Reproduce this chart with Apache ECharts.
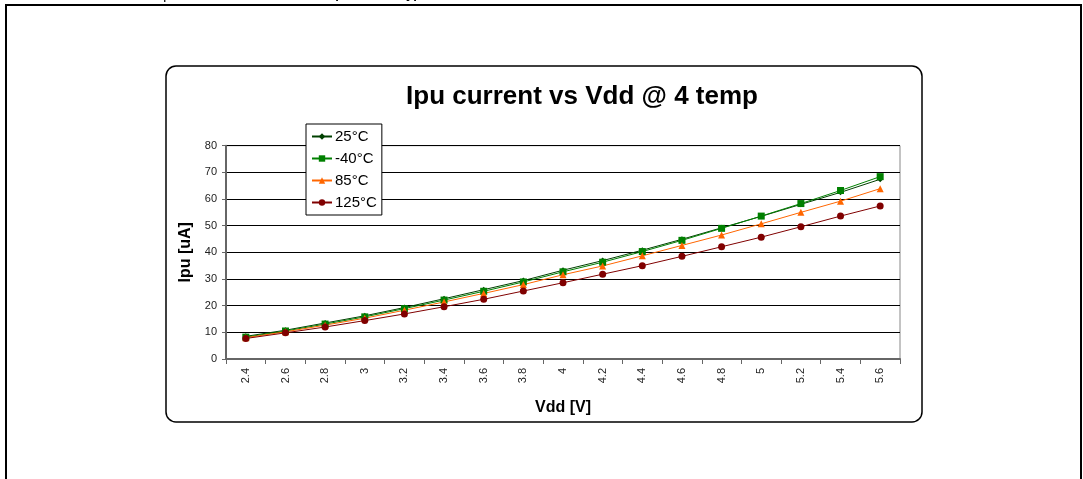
<!DOCTYPE html>
<html>
<head>
<meta charset="utf-8">
<script src="https://cdn.jsdelivr.net/npm/echarts@6/dist/echarts.min.js"></script>
<style>
  html, body { margin: 0; padding: 0; background: #fff; }
  #main { width: 1083px; height: 479px; }
</style>
</head>
<body>
<div id="main"></div>
<script>
var vdd = ['2.4', '2.6', '2.8', '3', '3.2', '3.4', '3.6', '3.8', '4', '4.2', '4.4', '4.6', '4.8', '5', '5.2', '5.4', '5.6'];
var t25 = [8.5, 10.8, 13.5, 16.2, 19.3, 22.6, 26.0, 29.4, 33.3, 36.9, 40.8, 44.9, 49.2, 53.5, 58.0, 62.5, 67.4];
var tm40 = [8.2, 10.5, 13.1, 15.8, 18.9, 22.1, 25.4, 28.9, 32.7, 36.3, 40.3, 44.5, 49.0, 53.6, 58.3, 63.2, 68.4];
var t85 = [8.0, 10.2, 12.7, 15.3, 18.3, 21.4, 24.6, 27.9, 31.6, 34.9, 38.7, 42.6, 46.5, 50.7, 55.0, 59.2, 63.9];
var t125 = [7.7, 9.8, 12.0, 14.4, 16.9, 19.6, 22.4, 25.5, 28.6, 31.8, 35.0, 38.5, 42.1, 45.7, 49.6, 53.6, 57.4];

var font = 'Arial, "Liberation Sans", sans-serif';
var chartDom = document.getElementById('main');
var myChart = echarts.init(chartDom);
var option;

function line(name, data, color, symbol, size) {
    return {
        name: name,
        type: 'line',
        data: data,
        symbol: symbol,
        symbolSize: size,
        lineStyle: { color: color, width: 1 },
        itemStyle: { color: color },
        animation: false
    };
}

option = {
    animation: false,
    title: {
        text: 'Ipu current vs Vdd @ 4 temp',
        left: 582,
        top: 84,
        textAlign: 'center',
        padding: 0,
        textStyle: { fontFamily: font, fontSize: 26, fontWeight: 'bold', color: '#000' }
    },
    legend: {
        orient: 'vertical',
        left: 306,
        top: 124,
        padding: [5, 5, 5, 5],
        itemWidth: 20,
        itemHeight: 8,
        itemGap: 7,
        backgroundColor: '#fff',
        borderColor: '#000',
        borderWidth: 1,
        borderRadius: 0,
        textStyle: { fontFamily: font, fontSize: 15, lineHeight: 14, color: '#000', padding: [0, 0, 0, -2] },
        data: ['25°C', '-40°C', '85°C', '125°C']
    },
    grid: {
        left: 226,
        right: 183,
        top: 145.7,
        bottom: 120,
        show: true,
        borderColor: '#888',
        borderWidth: 1
    },
    xAxis: {
        type: 'category',
        data: vdd,
        boundaryGap: true,
        name: 'Vdd [V]',
        nameLocation: 'middle',
        nameGap: 41,
        nameTextStyle: { fontFamily: font, fontSize: 16, fontWeight: 'bold', color: '#000' },
        axisLine: { lineStyle: { color: '#666', width: 2 } },
        axisTick: { show: true, interval: 0, length: 5, lineStyle: { color: '#666' } },
        axisLabel: { interval: 0, rotate: 90, margin: 9, fontFamily: font, fontSize: 11, color: '#222' },
        splitLine: { show: false }
    },
    yAxis: {
        type: 'value',
        min: 0,
        max: 80,
        interval: 10,
        name: 'Ipu [uA]',
        nameLocation: 'middle',
        nameRotate: 90,
        nameGap: 31,
        nameTextStyle: { fontFamily: font, fontSize: 16, fontWeight: 'bold', color: '#000' },
        axisLine: { show: true, lineStyle: { color: '#666', width: 2 } },
        axisTick: { show: true, length: 4, lineStyle: { color: '#666' } },
        axisLabel: { margin: 9, fontFamily: font, fontSize: 11, color: '#222' },
        splitLine: { show: true, lineStyle: { color: '#000', width: 1 } }
    },
    graphic: [
        {
            type: 'rect',
            shape: { x: 6, y: 5, width: 1075, height: 520 },
            style: { fill: 'none', stroke: '#000', lineWidth: 2 },
            z: -10
        },
        {
            type: 'rect',
            shape: { x: 166, y: 66, width: 756, height: 356, r: 10 },
            style: { fill: 'none', stroke: '#000', lineWidth: 1.5 },
            z: -10
        },
        {
            type: 'text',
            x: 6,
            y: -13,
            style: {
                text: 'Figure 18.',
                fill: '#000',
                font: 'bold 13px ' + font
            }
        },
        {
            type: 'text',
            x: 160,
            y: -13,
            style: {
                text: 'I{s|pu} current vs V{s|dd} at four temperatures, typical',
                fill: '#000',
                font: 'bold 13px ' + font,
                rich: { s: { font: 'bold 9px ' + font, padding: [6, 0, 0, 0] } }
            }
        }
    ],
    series: [
        line('25°C', t25, '#004000', 'diamond', 6),
        line('-40°C', tm40, '#008000', 'rect', 7),
        line('85°C', t85, '#ff6600', 'triangle', 7),
        line('125°C', t125, '#800000', 'circle', 7)
    ]
};

option && myChart.setOption(option);
</script>
</body>
</html>
